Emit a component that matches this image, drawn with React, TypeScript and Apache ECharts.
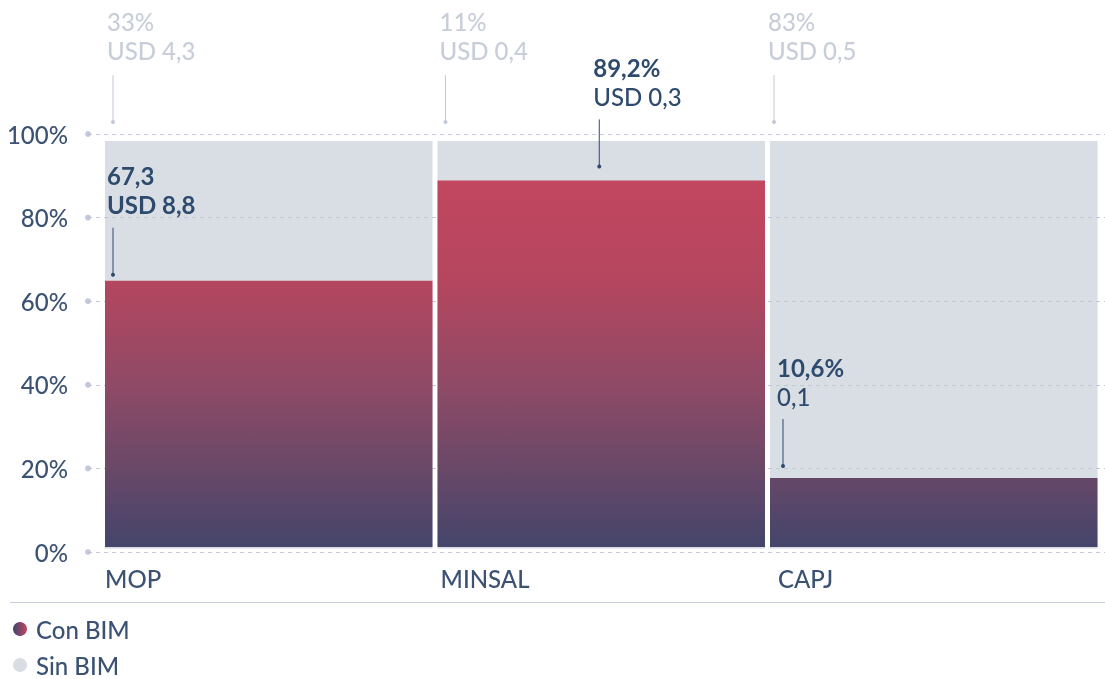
import React, { useEffect, useRef } from 'react';
import * as echarts from 'echarts';

const categories = ['MOP', 'MINSAL', 'CAPJ'];
const conBIM = [64.9, 88.9, 17.7];
const sinBIMTop = [98.3, 98.3, 98.3];
const barBase = 1.2;
const grayBase = 0.8;
const conLabels = [['67,3', 'USD 8,8'], ['89,2%', 'USD 0,3'], ['10,6%', '0,1']];
const conSecondBold = [true, false, false];
const sinLabels = [['33%', 'USD 4,3'], ['11%', 'USD 0,4'], ['83%', 'USD 0,5']];
const yTicks = [0, 20, 40, 60, 80, 100];
const legendNames = ['Con BIM', 'Sin BIM'];

// layout tweaks (pixels)
const darkPointerX: (number | null)[] = [8, null, 13];
const darkPointerGap = [6, 14, 12];
const grayPointerX = [8, 8, 4];
const catLabelX = [0, 3, 8];

const FONT = 'Lato, "Noto Sans", sans-serif';
const FS = 24;
const AXIS_COLOR = '#3b5273';
const DARK = '#2e4a6d';
const LIGHT_TXT = '#c8ced9';
const LIGHT_LINE = '#c3c9d6';

function txt(x: number, y: number, text: string, fill: string, weight: string | number = 'normal', size = FS) {
  return {
    type: 'text',
    x,
    y,
    style: {
      text,
      fill,
      fontSize: size,
      fontFamily: FONT,
      fontWeight: weight,
      align: 'left',
      verticalAlign: 'middle',
      textAlign: 'left',
      textVerticalAlign: 'middle',
    },
  };
}

export default function App() {
  const ref = useRef<HTMLDivElement>(null);
  useEffect(() => {
    if (!ref.current) return;
    const chart = echarts.init(ref.current, null, { renderer: 'svg' });

    const renderItem = (params: any, api: any) => {
      const idx = api.value(0);
      const center = api.coord([idx, 0]);
      const bandW = api.size([1, 0])[0];
      const barW = bandW - 5;
      const left = center[0] - barW / 2;
      const yGrayTop = api.coord([idx, sinBIMTop[idx]])[1];
      const yGrayBot = api.coord([idx, grayBase])[1];
      const yTop = api.coord([idx, conBIM[idx]])[1];
      const yBase = api.coord([idx, barBase])[1];
      const y0 = center[1];
      const gTop = api.coord([idx, 98.3])[1];
      const gBot = api.coord([idx, barBase])[1];
      const grad = {
        type: 'linear',
        x: 0,
        y: gTop,
        x2: 0,
        y2: gBot,
        global: true,
        colorStops: [
          { offset: 0, color: '#c8465f' },
          { offset: 0.1, color: '#c2465f' },
          { offset: 0.345, color: '#b5465f' },
          { offset: 0.6, color: '#8f4a66' },
          { offset: 0.805, color: '#6a4868' },
          { offset: 1, color: '#44456b' },
        ],
      };
      const children: any[] = [];
      children.push({
        type: 'rect',
        shape: { x: left, y: yGrayTop, width: barW, height: yGrayBot - yGrayTop },
        style: { fill: 'rgba(192,198,210,0.6)' },
      });
      children.push({
        type: 'rect',
        shape: { x: left, y: yTop, width: barW, height: yBase - yTop },
        style: { fill: grad },
      });
      // light (Sin BIM) annotation
      const gx = left + grayPointerX[idx];
      const gDot = yGrayTop - 19;
      children.push({
        type: 'line',
        shape: { x1: gx, y1: gDot - 47, x2: gx, y2: gDot },
        style: { stroke: LIGHT_LINE, lineWidth: 1 },
      });
      children.push({ type: 'circle', shape: { cx: gx, cy: gDot, r: 2 }, style: { fill: LIGHT_LINE } });
      children.push(txt(gx - 6, gDot - 47 - 25, sinLabels[idx][1], LIGHT_TXT, 500));
      children.push(txt(gx - 6, gDot - 47 - 54, sinLabels[idx][0], LIGHT_TXT, 500));
      // dark (Con BIM) annotation
      const off = darkPointerX[idx];
      const dx = off === null ? center[0] - 2 : left + off;
      const dDot = yTop - darkPointerGap[idx];
      children.push({
        type: 'line',
        shape: { x1: dx, y1: dDot - 47, x2: dx, y2: dDot },
        style: { stroke: DARK, lineWidth: 1 },
      });
      children.push({ type: 'circle', shape: { cx: dx, cy: dDot, r: 2 }, style: { fill: DARK } });
      children.push(txt(dx - 6, dDot - 47 - 23, conLabels[idx][1], DARK, conSecondBold[idx] ? 'bold' : 500));
      children.push(txt(dx - 6, dDot - 47 - 52, conLabels[idx][0], DARK, 'bold'));
      // category label
      children.push(txt(left + catLabelX[idx], y0 + 26, categories[idx], AXIS_COLOR, 500));
      return { type: 'group', children };
    };

    chart.setOption({
      animation: false,
      grid: [
        { left: 88, right: 0, top: 134, bottom: 127 },
        { left: 102.5, right: 5, top: 134, bottom: 127 },
      ],
      xAxis: [
        { type: 'value', gridIndex: 0, min: 0, max: 1, show: false },
        { type: 'category', gridIndex: 1, data: categories, show: false },
      ],
      yAxis: [
        {
          type: 'value',
          gridIndex: 0,
          min: 0,
          max: 100,
          interval: 20,
          axisLine: { show: false },
          axisTick: { show: false },
          axisLabel: {
            formatter: '{value}%',
            fontSize: FS,
            fontFamily: FONT,
            fontWeight: 500,
            color: AXIS_COLOR,
            margin: 20,
          },
          splitLine: { lineStyle: { color: '#c3c7de', width: 1, type: [4, 4] } },
        },
        { type: 'value', gridIndex: 1, min: 0, max: 100, show: false },
      ],
      series: [
        {
          type: 'scatter',
          xAxisIndex: 0,
          yAxisIndex: 0,
          data: yTicks.map((v) => [0, v]),
          symbolSize: 6,
          itemStyle: { color: '#b8bcd5' },
          silent: true,
          clip: false,
          z: 3,
        },
        {
          type: 'custom',
          xAxisIndex: 1,
          yAxisIndex: 1,
          data: categories.map((c, i) => [i, conBIM[i]]),
          renderItem,
          clip: false,
          silent: true,
          z: 2,
        },
      ],
      graphic: [
        {
          type: 'line',
          shape: { x1: 10, y1: 602.5, x2: 1105, y2: 602.5 },
          style: { stroke: '#c8cde0', lineWidth: 1 },
        },
        {
          type: 'circle',
          shape: { cx: 20, cy: 629, r: 7 },
          style: {
            fill: new echarts.graphic.LinearGradient(0, 0, 1, 0, [
              { offset: 0, color: '#3f4570' },
              { offset: 1, color: '#c4465f' },
            ]),
          },
        },
        txt(36, 629, legendNames[0], AXIS_COLOR, 500),
        {
          type: 'circle',
          shape: { cx: 20, cy: 665, r: 7 },
          style: { fill: '#d9dde4' },
        },
        txt(36, 665, legendNames[1], AXIS_COLOR, 500),
      ],
    });
    return () => chart.dispose();
  }, []);
  return <div ref={ref} style={{ position: 'fixed', left: 0, top: 0, width: 1105, height: 679 }} />;
}
